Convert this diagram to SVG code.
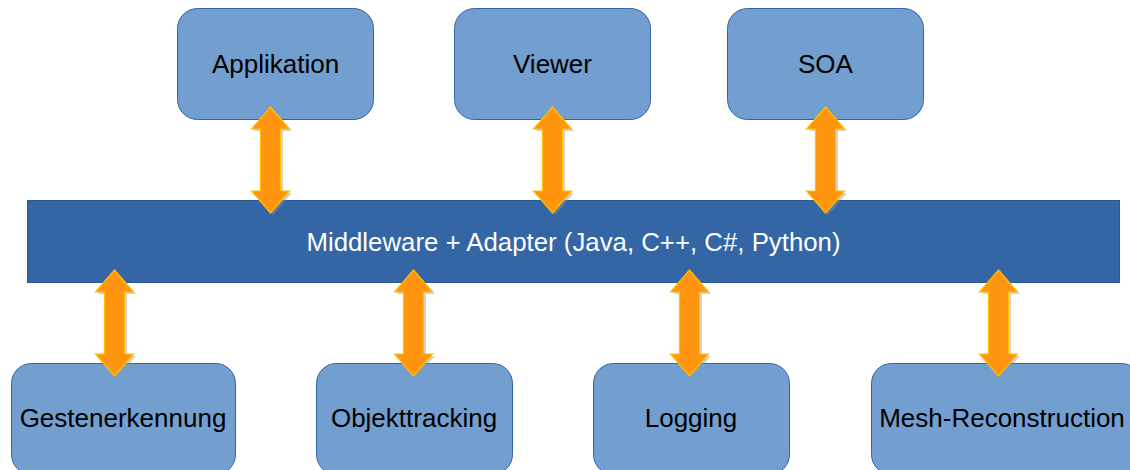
<svg xmlns="http://www.w3.org/2000/svg" width="1130" height="470" viewBox="0 0 1130 470">
<defs>
<style>
.box{fill:#729fcf;stroke:#3465a4;stroke-width:1}
.bar{fill:#3465a4;stroke:#2a5a96;stroke-width:1}
.lbl{font-family:"Liberation Sans",Arial,sans-serif;font-size:26px;fill:#000;text-anchor:middle}
.mlbl{font-family:"Liberation Sans",Arial,sans-serif;font-size:25.8px;fill:#fff;text-anchor:middle}
.arr{fill:#ff950e;stroke:#ffbf00;stroke-width:1.2;stroke-linejoin:miter}
.shd{fill:#9a9a9a;opacity:0.45}
</style>
<path id="dbl" d="M0,0 L19,22 L10,22 L10,84 L19,84 L0,106 L-19,84 L-10,84 L-10,22 L-19,22 Z"/>
</defs>
<rect width="1130" height="470" fill="#fff"/>
<g id="applikation"><rect class="box" x="177.5" y="8.5" width="196" height="111" rx="20"/><text class="lbl" x="275.5" y="73">Applikation</text></g>
<g id="viewer"><rect class="box" x="454.5" y="8.5" width="196" height="111" rx="20"/><text class="lbl" x="552.5" y="73">Viewer</text></g>
<g id="soa"><rect class="box" x="727.5" y="8.5" width="196" height="111" rx="20"/><text class="lbl" x="825.5" y="73">SOA</text></g>
<g id="middleware"><rect class="bar" x="27.5" y="200.5" width="1092" height="82"/><text class="mlbl" x="573.5" y="251">Middleware + Adapter (Java, C++, C#, Python)</text></g>
<g id="gestenerkennung"><rect class="box" x="11.5" y="363.5" width="224" height="111" rx="20"/><text class="lbl" x="123" y="427">Gestenerkennung</text></g>
<g id="objekttracking"><rect class="box" x="316.5" y="363.5" width="196" height="111" rx="20"/><text class="lbl" x="414" y="427">Objekttracking</text></g>
<g id="logging"><rect class="box" x="593.5" y="363.5" width="196" height="111" rx="20"/><text class="lbl" x="691" y="427">Logging</text></g>
<g id="mesh"><rect class="box" x="871.5" y="363.5" width="270" height="111" rx="20"/><text class="lbl" x="1002" y="427">Mesh-Reconstruction</text></g>
<g id="connectors">
<use href="#dbl" class="shd" transform="translate(273,109)"/>
<use href="#dbl" class="arr" transform="translate(270.5,107)"/>
<use href="#dbl" class="shd" transform="translate(555,109)"/>
<use href="#dbl" class="arr" transform="translate(552.5,107)"/>
<use href="#dbl" class="shd" transform="translate(828,109)"/>
<use href="#dbl" class="arr" transform="translate(825.5,107)"/>
<use href="#dbl" class="shd" transform="translate(117,272)"/>
<use href="#dbl" class="arr" transform="translate(114.5,270)"/>
<use href="#dbl" class="shd" transform="translate(416,272)"/>
<use href="#dbl" class="arr" transform="translate(413.5,270)"/>
<use href="#dbl" class="shd" transform="translate(692,272)"/>
<use href="#dbl" class="arr" transform="translate(689.5,270)"/>
<use href="#dbl" class="shd" transform="translate(1001,272)"/>
<use href="#dbl" class="arr" transform="translate(998.5,270)"/>
</g>
</svg>
